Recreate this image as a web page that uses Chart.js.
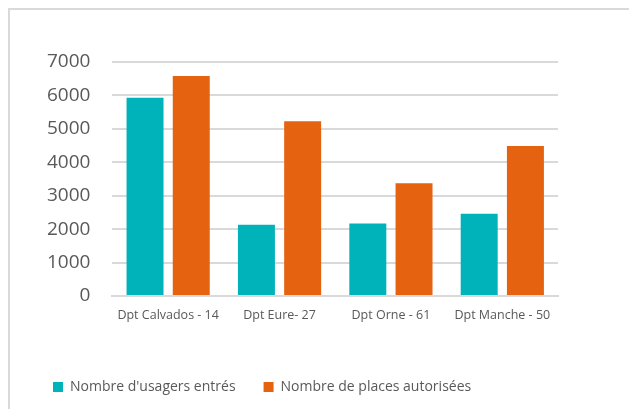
<!DOCTYPE html>
<html>
<head>
<meta charset="utf-8">
<script src="https://cdn.jsdelivr.net/npm/chart.js@4"></script>
<style>
  html, body { margin: 0; padding: 0; background: #fff; }
  #wrap { position: relative; width: 629px; height: 409px; }
  #frame { position: absolute; left: 8px; top: 8px; right: -2px; bottom: -2px;
           border-left: 2px solid #d9d9d9; border-top: 2px solid #d9d9d9; pointer-events: none; }
  canvas { position: absolute; left: 0; top: 0; }
</style>
</head>
<body>
<div id="wrap">
  <canvas id="c" width="629" height="409"></canvas>
  <div id="frame"></div>
</div>
<script>
const categories = ["Dpt Calvados - 14", "Dpt Eure- 27", "Dpt Orne - 61", "Dpt Manche - 50"];
const seriesNames = ["Nombre d'usagers entrés", "Nombre de places autorisées"];
const usagersEntres = [5930, 2130, 2170, 2460];
const placesAutorisees = [6580, 5230, 3370, 4490];
const yTicks = [0, 1000, 2000, 3000, 4000, 5000, 6000, 7000];

const FONT = "'Open Sans', 'Noto Sans', sans-serif";

new Chart(document.getElementById('c'), {
  type: 'bar',
  data: {
    labels: categories,
    datasets: [
      { label: seriesNames[0], data: usagersEntres, backgroundColor: '#00B3BB' },
      { label: seriesNames[1], data: placesAutorisees, backgroundColor: '#E46210' }
    ]
  },
  options: {
    responsive: false,
    animation: false,
    devicePixelRatio: 1,
    layout: { padding: { left: 25, right: 71, top: 62, bottom: 5 } },
    datasets: { bar: { categoryPercentage: 0.83, barPercentage: 0.8 } },
    scales: {
      x: {
        grid: { display: false, drawTicks: false },
        border: { display: true, color: '#d9d9d9', width: 2 },
        ticks: { color: '#595959', font: { family: FONT, size: 12.5 }, padding: 12, maxRotation: 0 },
        afterFit(scale) { scale.height += 17; }
      },
      y: {
        min: 0, max: 7000,
        afterBuildTicks(scale) { scale.ticks = yTicks.map(v => ({ value: v })); },
        grid: { color: '#d9d9d9', lineWidth: 2, drawTicks: false },
        border: { display: false },
        ticks: { color: '#595959', font: { family: FONT, size: 19 }, padding: 22,
                 callback: v => String(v) }
      }
    },
    plugins: {
      legend: {
        position: 'bottom',
        align: 'start',
        labels: {
          color: '#595959',
          font: { family: FONT, size: 14 },
          boxWidth: 10, boxHeight: 10,
          padding: 28
        }
      },
      tooltip: { enabled: false }
    }
  }
});
</script>
</body>
</html>
